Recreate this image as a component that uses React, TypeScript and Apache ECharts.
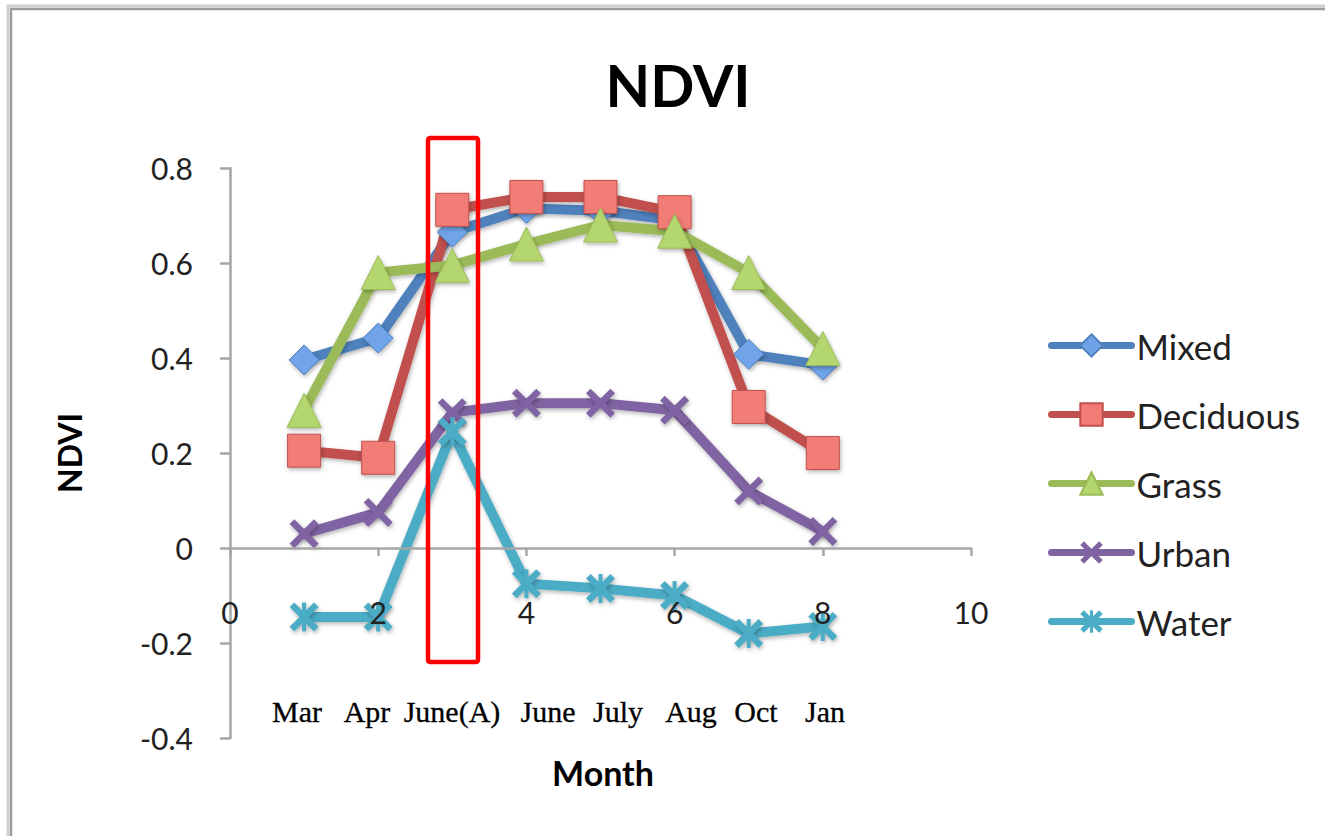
import React, { useEffect, useRef } from "react";
import * as echarts from "echarts";

const xValues = [1, 2, 3, 4, 5, 6, 7, 8];
const monthLabels = ["Mar", "Apr", "June(A)", "June", "July", "Aug", "Oct", "Jan"];
const seriesNames = ["Mixed", "Deciduous", "Grass", "Urban", "Water"];
const mixed = [0.396, 0.442, 0.665, 0.715, 0.71, 0.69, 0.408, 0.385];
const deciduous = [0.205, 0.19, 0.712, 0.739, 0.739, 0.707, 0.297, 0.2];
const grass = [0.29, 0.58, 0.595, 0.64, 0.68, 0.667, 0.58, 0.42];
const urban = [0.03, 0.075, 0.285, 0.305, 0.305, 0.29, 0.12, 0.035];
const water = [-0.145, -0.145, 0.245, -0.075, -0.085, -0.1, -0.18, -0.165];
const yTicks = { min: -0.4, max: 0.8, interval: 0.2 };
const xTicks = { min: 0, max: 10, interval: 2 };

const monthLabelX = [297, 367, 452, 548, 618, 691, 756, 825];

const X_PATH = "path://M1.6,0L10,8.4L8.4,10L0,1.6ZM8.4,0L10,1.6L1.6,10L0,8.4Z";
const STAR_PATH =
  "path://M1.6,0L10,8.4L8.4,10L0,1.6ZM8.4,0L10,1.6L1.6,10L0,8.4ZM4.3,0L5.7,0L5.7,10L4.3,10Z";

const SANS = "Lato, 'Open Sans', sans-serif";

export default function App() {
  const ref = useRef<HTMLDivElement>(null);
  useEffect(() => {
    if (!ref.current) return;
    const chart = echarts.init(ref.current, null, { renderer: "svg" });
    const pair = (arr: number[]) => arr.map((v, i) => [xValues[i], v]);
    const shadow = {
      shadowColor: "rgba(0,0,0,0.3)",
      shadowBlur: 4,
      shadowOffsetX: 1,
      shadowOffsetY: 2,
    };
    const mk = (
      name: string,
      data: number[],
      line: string,
      fill: string,
      symbol: string,
      size: number
    ) => ({
      name,
      type: "line",
      data: pair(data),
      symbol,
      symbolSize: size,
      showSymbol: true,
      lineStyle: { color: line, width: 10, cap: "round", join: "round", ...shadow },
      itemStyle: {
        color: fill,
        borderColor: line,
        borderWidth: symbol.startsWith("path") ? 0 : 1,
        ...shadow,
      },
      emphasis: { disabled: true },
    });
    chart.setOption({
      animation: false,
      backgroundColor: "#ffffff",
      title: {
        text: "NDVI",
        left: 673,
        top: 50,
        textAlign: "center",
        textStyle: { fontFamily: SANS, fontSize: 58, fontWeight: "bold", color: "#000" },
      },
      grid: { left: 230, right: 354, top: 168, bottom: 98, containLabel: false },
      xAxis: {
        type: "value",
        z: 10,
        min: xTicks.min,
        max: xTicks.max,
        interval: xTicks.interval,
        splitLine: { show: false },
        axisLine: { onZero: true, lineStyle: { color: "#a6a6a6", width: 2.5 } },
        axisTick: { show: true, length: 8, lineStyle: { color: "#a6a6a6", width: 2.5 } },
        axisLabel: { margin: -141, fontFamily: SANS, fontSize: 30, color: "#222" },
      },
      yAxis: {
        type: "value",
        min: yTicks.min,
        max: yTicks.max,
        interval: yTicks.interval,
        splitLine: { show: false },
        axisLine: { show: true, onZero: false, lineStyle: { color: "#a6a6a6", width: 2.5 } },
        axisTick: { show: true, length: 10, lineStyle: { color: "#a6a6a6", width: 2.5 } },
        axisLabel: {
          margin: 37,
          fontFamily: SANS,
          fontSize: 30,
          color: "#222",
          formatter: (v: number) => String(Math.round(v * 10) / 10),
        },
        name: "NDVI",
        nameLocation: "middle",
        nameGap: 145,
        nameRotate: 90,
        nameTextStyle: { fontFamily: SANS, fontSize: 32, fontWeight: "bold", color: "#000" },
      },
      legend: {
        orient: "vertical",
        left: 1043,
        top: 323,
        itemWidth: 80,
        itemHeight: 28,
        itemGap: 34,
        data: seriesNames,
        lineStyle: { width: 7 },
        textStyle: { fontFamily: SANS, fontSize: 35, color: "#222", padding: [0, 0, 0, 0] },
      },
      series: [
        mk(seriesNames[0], mixed, "#4F81BD", "#6FA3E8", "diamond", 30),
        mk(seriesNames[1], deciduous, "#C0504D", "#F27B76", "rect", 33),
        mk(seriesNames[2], grass, "#9BBB59", "#B4D66E", "triangle", 34),
        mk(seriesNames[3], urban, "#8064A2", "#8064A2", X_PATH, 29),
        mk(seriesNames[4], water, "#4BACC6", "#4BACC6", STAR_PATH, 29),
      ],
      graphic: [
        {
          type: "rect",
          shape: { x: 8, y: 6, width: 1400, height: 1000 },
          style: { fill: "none", stroke: "#d0d0d0", lineWidth: 3 },
          silent: true,
        },
        {
          type: "rect",
          shape: { x: 11, y: 9, width: 1400, height: 1000 },
          style: { fill: "none", stroke: "#9c9c9c", lineWidth: 2.5 },
          silent: true,
        },
        {
          type: "rect",
          shape: { x: 428, y: 138, width: 50, height: 524, r: 2 },
          style: { fill: "none", stroke: "#ff0000", lineWidth: 4.5 },
          z: 100,
          silent: true,
        },
        ...monthLabels.map((m, i) => ({
          type: "text",
          x: monthLabelX[i],
          y: 711,
          style: {
            text: m,
            fontFamily: "'Liberation Serif', 'DejaVu Serif', serif",
            fontSize: 30,
            fill: "#000",
            stroke: "#000",
            lineWidth: 0.3,
            align: "center",
            verticalAlign: "middle",
          },
          silent: true,
        })),
        {
          type: "text",
          x: 603,
          y: 772,
          style: {
            text: "Month",
            fontFamily: SANS,
            fontSize: 34,
            fontWeight: "bold",
            fill: "#000",
            align: "center",
            verticalAlign: "middle",
          },
          silent: true,
        },
      ],
    });
    return () => chart.dispose();
  }, []);
  return (
    <div
      ref={ref}
      style={{ position: "fixed", left: 0, top: 0, width: 1325, height: 836 }}
    />
  );
}
